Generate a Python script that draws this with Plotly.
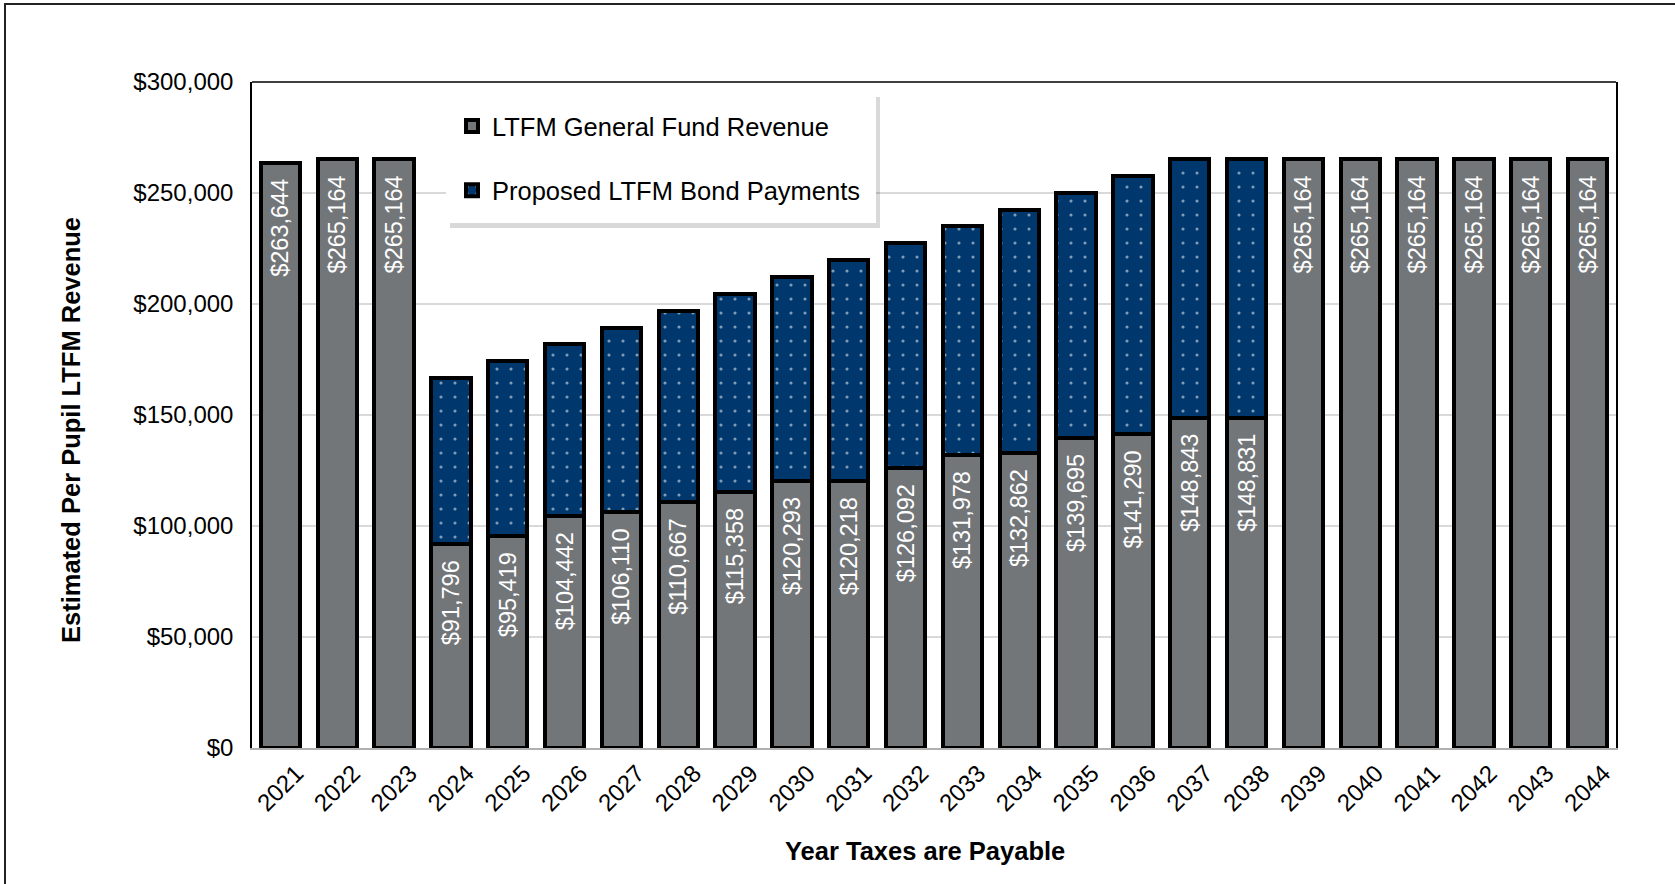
import plotly.graph_objects as go

years = [str(y) for y in range(2021, 2045)]
general_fund = [263644, 265164, 265164, 91796, 95419, 104442, 106110, 110667, 115358,
                120293, 120218, 126092, 131978, 132862, 139695, 141290, 148843, 148831,
                265164, 265164, 265164, 265164, 265164, 265164]
bond_payments = [None, None, None, 74960, 79000, 77630, 83300, 86390, 89220,
                 91940, 99790, 101440, 103070, 109660, 110480, 116410, 116321, 116333,
                 None, None, None, None, None, None]

W, H = 1675, 884
ML, MR, MT, MB = 252, 59, 82, 136
PW, PH = W - ML - MR, H - MT - MB

def px_x(p):
    return (p - ML) / PW

def px_y(p):
    return (H - MB - p) / PH

GRAY = "#737679"
NAVY = "#00386E"
FONT = "Arial, Liberation Sans, sans-serif"
PAD = "\u00a0\u00a0"

fig = go.Figure()
fig.add_trace(go.Bar(
    x=years, y=general_fund, name="LTFM General Fund Revenue",
    marker=dict(color=GRAY, line=dict(color="black", width=4)),
    text=[f"${v:,}{PAD}" for v in general_fund],
    textposition="inside", insidetextanchor="end", textangle=-90,
    textfont=dict(color="white", size=23.5, family=FONT),
    constraintext="none", cliponaxis=False,
    legendgroup="a",
))
fig.add_trace(go.Bar(
    x=years, y=bond_payments, name="Proposed LTFM Bond Payments",
    marker=dict(color=NAVY, line=dict(color="black", width=4),
                pattern=dict(shape=".", fgcolor="white", bgcolor=NAVY,
                             size=14, solidity=0.04, fillmode="overlay")),
    textposition="none",
    legendgroup="b",
))

shapes = []
# legend box shadow and background
lx0, ly0, lx1, ly1 = 446, 92, 876, 223
shapes.append(dict(type="rect", xref="paper", yref="paper",
                   x0=px_x(lx0 + 4), x1=px_x(lx1 + 4), y0=px_y(ly1 + 5), y1=px_y(ly0 + 5),
                   fillcolor="rgba(0,0,0,0.15)", line=dict(width=0), layer="above"))
shapes.append(dict(type="rect", xref="paper", yref="paper",
                   x0=px_x(lx0), x1=px_x(lx1), y0=px_y(ly1), y1=px_y(ly0),
                   fillcolor="white", line=dict(width=0), layer="above"))
# plot area top border
shapes.append(dict(type="line", xref="paper", yref="paper", x0=0, x1=1, y0=1, y1=1,
                   line=dict(color="black", width=1.5)))
# outer frame
shapes.append(dict(type="rect", xref="paper", yref="paper",
                   x0=px_x(5), x1=px_x(W + 10), y0=px_y(H + 10), y1=px_y(4),
                   fillcolor="rgba(0,0,0,0)", line=dict(color="#222222", width=2)))

annotations = [
    dict(text="<b>Year Taxes are Payable</b>", xref="paper", yref="paper",
         x=px_x(925), y=px_y(851), xanchor="center", yanchor="middle",
         showarrow=False, font=dict(size=25.5, family=FONT, color="black")),
    dict(text="<b>Estimated Per Pupil LTFM Revenue</b>", xref="paper", yref="paper",
         x=px_x(71), y=px_y(430), xanchor="center", yanchor="middle", textangle=-90,
         showarrow=False, font=dict(size=25.5, family=FONT, color="black")),
]

fig.update_layout(
    width=W, height=H,
    margin=dict(l=ML, r=MR, t=MT, b=MB, autoexpand=False),
    barmode="stack", bargap=0.31,
    plot_bgcolor="white", paper_bgcolor="white",
    font=dict(family=FONT, color="black", size=23),
    shapes=shapes, annotations=annotations,
    legend=dict(x=px_x(lx0 + 6), y=px_y(ly0 + 11), xanchor="left", yanchor="top",
                bgcolor="rgba(0,0,0,0)", borderwidth=0,
                font=dict(size=25.5, family=FONT, color="black"),
                traceorder="grouped", tracegroupgap=28,
                itemwidth=30),
    xaxis=dict(type="category", tickangle=-45, tickfont=dict(size=24),
               showline=True, linecolor="#b0b0b0", linewidth=1.5,
               ticks="", ticklabelshift=16),
    yaxis=dict(range=[0, 300000], dtick=50000, tickprefix="$", tickformat=",",
               tickfont=dict(size=24), showgrid=True, gridcolor="#d9d9d9", gridwidth=1.5,
               showline=True, linecolor="black", linewidth=1.5, mirror=True,
               ticks="", ticklen=0, zeroline=False, ticklabelstandoff=12),
)

fig.write_html("out.html")
